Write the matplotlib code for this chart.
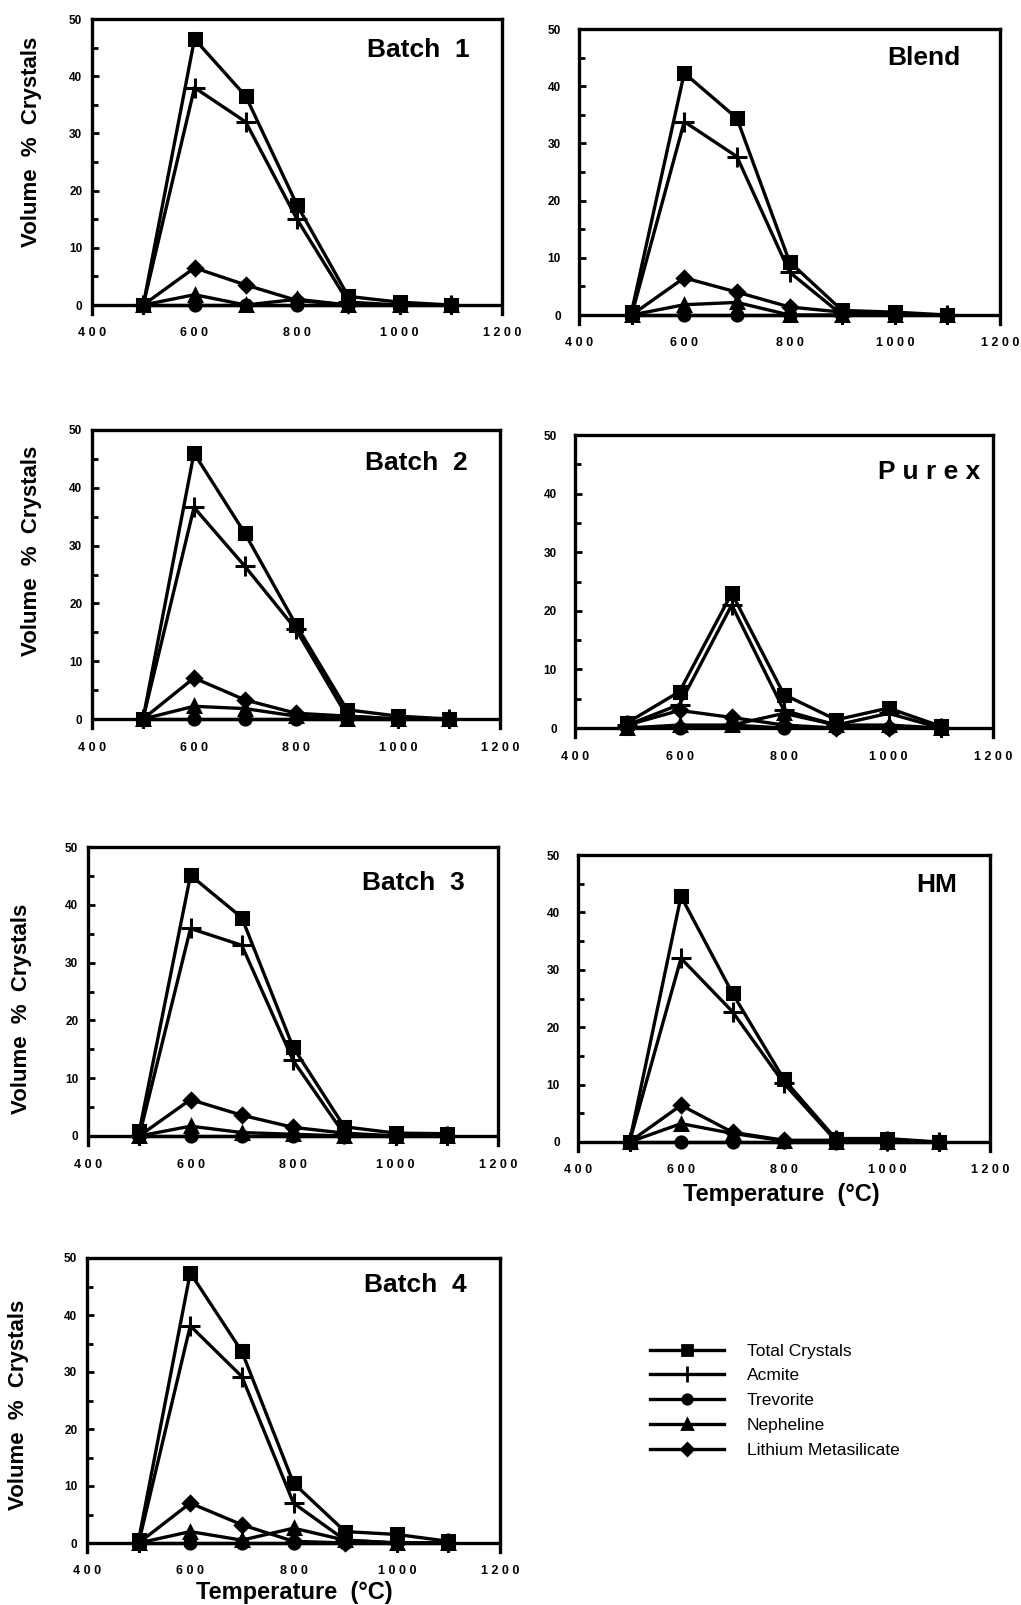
import numpy as np
import matplotlib
matplotlib.use("Agg")
import matplotlib.pyplot as plt
from matplotlib.lines import Line2D

plt.rcParams['font.family'] = ['Liberation Sans', 'DejaVu Sans']

# temperatures (C) of the heat treatments
temps = [500, 600, 700, 800, 900, 1000, 1100]
phases = ["Total Crystals", "Acmite", "Trevorite", "Nepheline", "Lithium Metasilicate"]

# volume % crystals, order: total, acmite, trevorite, nepheline, lithium metasilicate
batch1 = [[0, 46.5, 36.5, 17.5, 1.5, 0.5, 0],
          [0, 38, 32, 15, 0.5, 0, 0],
          [0, 0, 0, 0, 0, 0, 0],
          [0, 1.8, 0, 1.0, 0, 0, 0],
          [0, 6.5, 3.5, 0.8, 0, 0, 0]]
blend = [[0.6, 42.3, 34.4, 9.3, 0.8, 0.5, 0],
         [0, 33.8, 27.7, 7.5, 0, 0, 0],
         [0, 0, 0, 0, 0, 0, 0],
         [0, 1.8, 2.2, 0, 0, 0, 0],
         [0, 6.5, 4.0, 1.4, 0.5, 0, 0]]
batch2 = [[0, 46, 32.1, 16.3, 1.6, 0.5, 0],
          [0, 36.6, 26.4, 15.5, 0.5, 0, 0],
          [0, 0, 0, 0, 0, 0, 0],
          [0, 2.2, 1.8, 0.5, 0, 0, 0],
          [0, 7.1, 3.3, 1.0, 0.5, 0, 0]]
purex = [[0.9, 6.2, 23, 5.7, 1.4, 3.4, 0.3],
         [0.5, 4.0, 21, 3.0, 0.5, 2.5, 0],
         [0, 0, 0.5, 0, 0, 0, 0],
         [0, 0.5, 0.5, 2.5, 0.5, 0.5, 0],
         [0.5, 3.0, 1.8, 0.5, 0, 0, 0]]
batch3 = [[0.8, 45.1, 37.8, 15.4, 1.6, 0.5, 0.4],
          [0, 35.9, 33, 13.1, 0.3, 0, 0],
          [0, 0, 0, 0, 0, 0, 0],
          [0, 1.7, 0.6, 0.3, 0, 0, 0],
          [0, 6.3, 3.6, 1.5, 0.5, 0, 0]]
hm = [[0, 42.8, 25.9, 10.9, 0.6, 0.6, 0],
      [0, 32, 22.7, 10.2, 0.3, 0.2, 0],
      [0, 0, 0, 0, 0, 0, 0],
      [0, 3.2, 1.5, 0.2, 0, 0, 0],
      [0, 6.4, 1.7, 0.3, 0.3, 0, 0]]
batch4 = [[0.5, 47.4, 33.6, 10.5, 2.0, 1.5, 0.3],
          [0, 38.1, 29.2, 7.0, 0.5, 0, 0],
          [0, 0, 0, 0, 0, 0, 0],
          [0, 2.0, 0.5, 2.6, 0.5, 0, 0],
          [0, 7.0, 3.2, 0.3, 0, 0, 0]]

markers = ['s', '+', 'o', '^', 'D']
msizes = [9, 14, 8, 9, 7]

W, H = 1021, 1605
fig = plt.figure(figsize=(W / 100, H / 100), dpi=100)

# panel: data, title, (left, right, y50 px, y0 px), title pos, right column?
panels = [
    (batch1, "Batch  1", (92, 502, 19, 305), (0.92, 0.895), False),
    (blend, "Blend", (579, 1000, 29, 315), (0.905, 0.90), True),
    (batch2, "Batch  2", (92, 500, 430, 719), (0.92, 0.89), False),
    (purex, "P u r e x", (575, 993, 435, 728), (0.97, 0.877), True),
    (batch3, "Batch  3", (88, 498, 847, 1136), (0.92, 0.879), False),
    (hm, "HM", (578, 990, 855, 1142), (0.92, 0.90), True),
    (batch4, "Batch  4", (87, 500, 1258, 1543), (0.92, 0.909), False),
]

for data, title, (l, r, t, y0), tpos, right_col in panels:
    ppu = (y0 - t) / 50.0
    b = y0 + 1.5 * ppu
    ax = fig.add_axes([l / W, 1 - b / H, (r - l) / W, (b - t) / H])
    order = [2, 3, 4, 1, 0]
    for i in order:
        ax.plot(temps, data[i], color='k', lw=2.4, marker=markers[i],
                ms=msizes[i], mew=2.2, zorder=3 + i)
    ax.axhline(0, color='k', lw=2.4, zorder=2)
    ax.set_xlim(400, 1200)
    ax.set_ylim(-1.5, 50)
    ax.spines['bottom'].set_visible(False)
    for s in ['left', 'top', 'right']:
        ax.spines[s].set_linewidth(2.4)
    ax.set_xticks([400, 600, 800, 1000, 1200])
    ax.set_xticklabels(['4 0 0', '6 0 0', '8 0 0', '1 0 0 0', '1 2 0 0'])
    ax.tick_params(axis='x', length=0, pad=10, labelsize=9)
    ax.set_yticks(range(0, 51, 10))
    ax.set_yticks(range(5, 50, 10), minor=True)
    ax.tick_params(axis='y', direction='in', length=5, width=2,
                   pad=13 if right_col else 7, labelsize=8.5)
    ax.tick_params(axis='y', which='minor', direction='in', length=4, width=2)
    for lbl in ax.get_xticklabels() + ax.get_yticklabels():
        lbl.set_fontweight('bold')
    ax.text(tpos[0], tpos[1], title, transform=ax.transAxes, ha='right',
            va='center', fontsize=19, fontweight='bold')

# y labels of the left column
for xc, yc in [(32, 142), (32, 551), (22, 1009), (19, 1405)]:
    fig.text(xc / W, 1 - yc / H, "Volume  %  Crystals", rotation=90,
             ha='center', va='center', fontsize=16, fontweight='bold')

# x labels
for xc, yc in [(781, 1195), (294, 1593)]:
    fig.text(xc / W, 1 - yc / H, "Temperature  (°C)", ha='center',
             va='center', fontsize=17, fontweight='bold')

handles = [Line2D([], [], color='k', lw=2.4, marker=m, ms=s * 0.85, mew=2)
           for m, s in zip(markers, msizes)]
fig.legend(handles, phases, loc='upper left',
           bbox_to_anchor=(634 / W, 1 - 1328 / H), frameon=False,
           handlelength=4.3, handletextpad=1.3, labelspacing=0.55,
           prop={'size': 12.5})

fig.savefig("out.png", dpi=100)
